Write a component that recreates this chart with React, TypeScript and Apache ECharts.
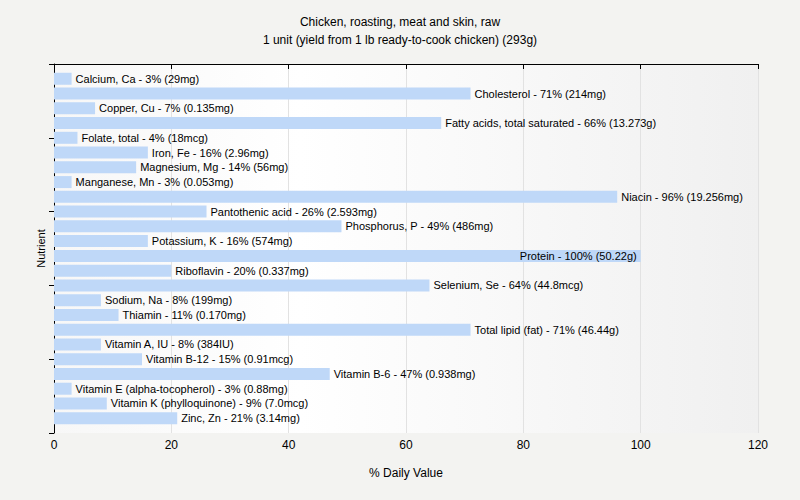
import React, { useEffect, useRef } from "react";
import * as echarts from "echarts";

const titleLines = [
  "Chicken, roasting, meat and skin, raw",
  "1 unit (yield from 1 lb ready-to-cook chicken) (293g)",
];

const nutrients = [
  "Calcium, Ca",
  "Cholesterol",
  "Copper, Cu",
  "Fatty acids, total saturated",
  "Folate, total",
  "Iron, Fe",
  "Magnesium, Mg",
  "Manganese, Mn",
  "Niacin",
  "Pantothenic acid",
  "Phosphorus, P",
  "Potassium, K",
  "Protein",
  "Riboflavin",
  "Selenium, Se",
  "Sodium, Na",
  "Thiamin",
  "Total lipid (fat)",
  "Vitamin A, IU",
  "Vitamin B-12",
  "Vitamin B-6",
  "Vitamin E (alpha-tocopherol)",
  "Vitamin K (phylloquinone)",
  "Zinc, Zn",
];

const percents = [3, 71, 7, 66, 4, 16, 14, 3, 96, 26, 49, 16, 100, 20, 64, 8, 11, 71, 8, 15, 47, 3, 9, 21];

const amounts = [
  "29mg", "214mg", "0.135mg", "13.273g", "18mcg", "2.96mg", "56mg", "0.053mg",
  "19.256mg", "2.593mg", "486mg", "574mg", "50.22g", "0.337mg", "44.8mcg", "199mg",
  "0.170mg", "46.44g", "384IU", "0.91mcg", "0.938mg", "0.88mg", "7.0mcg", "3.14mg",
];

const xTicks = [0, 20, 40, 60, 80, 100, 120];

const FONT = "Liberation Sans";

export default function App() {
  const ref = useRef<HTMLDivElement>(null);

  useEffect(() => {
    document.body.style.margin = "0";
    const chart = echarts.init(ref.current!, undefined, { renderer: "svg" });

    // categories padded with an empty slot at each end so that
    // nutrients sit at positions 1..24 of a 0..25 scale
    const cats = ["", ...nutrients, ""];
    const data: any[] = [{ value: null }];
    percents.forEach((p, i) => {
      const text = `${nutrients[i]} - ${p}% (${amounts[i]})`;
      const inside = p >= 100;
      data.push({
        value: p,
        label: {
          show: true,
          position: inside ? "insideRight" : "right",
          distance: 4,
          formatter: text,
        },
      });
    });
    data.push({ value: null });

    chart.setOption({
      animation: false,
      backgroundColor: "#f3f3f1",
      title: {
        text: titleLines.join("\n"),
        left: "center",
        top: 8,
        textStyle: {
          fontFamily: FONT,
          fontSize: 12,
          fontWeight: "normal",
          color: "#000",
          lineHeight: 18,
        },
      },
      grid: {
        left: 54,
        right: 42,
        top: 64,
        bottom: 67,
        show: true,
        borderWidth: 0,
        backgroundColor: {
          type: "linear",
          x: 0,
          y: 0,
          x2: 1,
          y2: 0,
          colorStops: [
            { offset: 0, color: "#f7f7f7" },
            { offset: 0.35, color: "#ffffff" },
            { offset: 1, color: "#f0f0f0" },
          ],
        },
      },
      xAxis: {
        type: "value",
        min: 0,
        max: 120,
        interval: 20,
        name: "% Daily Value",
        nameLocation: "middle",
        nameGap: 34,
        nameTextStyle: { fontFamily: FONT, fontSize: 12, color: "#000" },
        axisLine: { show: true, lineStyle: { color: "#000", width: 1 } },
        axisTick: { show: true, length: 5, lineStyle: { color: "#000" } },
        axisLabel: {
          fontFamily: FONT,
          fontSize: 12,
          color: "#000",
          margin: 6,
          formatter: (v: number) => (xTicks.includes(v) ? String(v) : ""),
        },
        splitLine: { show: true, lineStyle: { color: "#e2e2e2", width: 1 } },
      },
      yAxis: [
        {
          type: "category",
          data: cats,
          inverse: true,
          boundaryGap: false,
          axisLine: { show: false },
          axisTick: { show: false },
          axisLabel: { show: false },
          splitLine: { show: false },
        },
        {
          type: "value",
          min: 0,
          max: 25,
          interval: 5,
          inverse: true,
          position: "left",
          name: "Nutrient",
          nameLocation: "middle",
          nameGap: 8,
          nameTextStyle: { fontFamily: FONT, fontSize: 11, color: "#000" },
          axisLine: { show: true, lineStyle: { color: "#000", width: 1 } },
          axisTick: { show: true, length: 5, lineStyle: { color: "#000" } },
          axisLabel: { show: false },
          splitLine: { show: false },
        },
      ],
      series: [
        {
          type: "bar",
          yAxisIndex: 0,
          data,
          barWidth: 12,
          itemStyle: { color: "#bfd8f8" },
          label: {
            fontFamily: FONT,
            fontSize: 11,
            color: "#000",
          },
        },
      ],
    });

    return () => chart.dispose();
  }, []);

  return (
    <div
      ref={ref}
      style={{ position: "absolute", left: 0, top: 0, width: 800, height: 500 }}
    />
  );
}
